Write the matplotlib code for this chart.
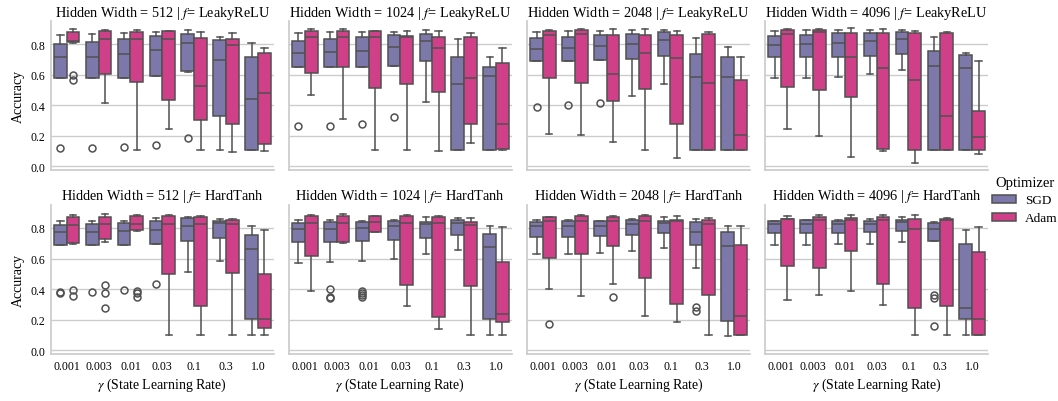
import matplotlib.pyplot as plt
from matplotlib.patches import Patch

plt.switch_backend('agg')
plt.rcParams['font.family'] = ['Liberation Serif', 'DejaVu Serif']
plt.rcParams['mathtext.fontset'] = 'stix'

GAMMAS = ['0.001', '0.003', '0.01', '0.03', '0.1', '0.3', '1.0']
WIDTHS = [512, 1024, 2048, 4096]
ACTIVATIONS = ['LeakyReLU', 'HardTanh']
OPTIMIZERS = ['SGD', 'Adam']

# box stats per gamma: (whislo, q1, median, q3, whishi)
LRELU_512_SGD = [(0.575, 0.575, 0.714, 0.798, 0.861), (0.579, 0.579, 0.718, 0.813, 0.866),
                 (0.581, 0.581, 0.733, 0.831, 0.872), (0.590, 0.590, 0.759, 0.853, 0.879),
                 (0.620, 0.622, 0.807, 0.868, 0.889), (0.104, 0.330, 0.696, 0.826, 0.848),
                 (0.104, 0.104, 0.440, 0.714, 0.807)]
LRELU_512_ADAM = [(0.810, 0.812, 0.818, 0.876, 0.896), (0.416, 0.603, 0.831, 0.883, 0.889),
                  (0.104, 0.549, 0.831, 0.879, 0.894), (0.245, 0.436, 0.831, 0.883, 0.883),
                  (0.104, 0.304, 0.527, 0.839, 0.881), (0.091, 0.280, 0.794, 0.831, 0.870),
                  (0.098, 0.148, 0.479, 0.742, 0.772)]
LRELU_1024_SGD = [(0.653, 0.653, 0.742, 0.822, 0.870), (0.653, 0.653, 0.748, 0.831, 0.876),
                  (0.653, 0.653, 0.757, 0.844, 0.879), (0.659, 0.659, 0.783, 0.859, 0.881),
                  (0.423, 0.690, 0.818, 0.866, 0.889), (0.104, 0.104, 0.536, 0.716, 0.833),
                  (0.104, 0.104, 0.592, 0.651, 0.718)]
LRELU_1024_ADAM = [(0.466, 0.610, 0.844, 0.887, 0.896), (0.312, 0.649, 0.844, 0.885, 0.896),
                   (0.104, 0.512, 0.846, 0.887, 0.887), (0.104, 0.540, 0.844, 0.850, 0.885),
                   (0.098, 0.486, 0.772, 0.844, 0.887), (0.150, 0.278, 0.577, 0.844, 0.874),
                   (0.104, 0.115, 0.280, 0.679, 0.772)]
LRELU_2048_SGD = [(0.690, 0.690, 0.766, 0.837, 0.879), (0.692, 0.692, 0.774, 0.844, 0.887),
                  (0.696, 0.696, 0.785, 0.857, 0.883), (0.462, 0.703, 0.800, 0.868, 0.889),
                  (0.536, 0.720, 0.826, 0.876, 0.894), (0.104, 0.104, 0.586, 0.735, 0.837),
                  (0.104, 0.104, 0.583, 0.714, 0.781)]
LRELU_2048_ADAM = [(0.213, 0.575, 0.857, 0.885, 0.894), (0.206, 0.542, 0.866, 0.892, 0.896),
                   (0.161, 0.430, 0.603, 0.861, 0.896), (0.104, 0.508, 0.742, 0.861, 0.896),
                   (0.054, 0.278, 0.709, 0.861, 0.887), (0.104, 0.104, 0.542, 0.863, 0.876),
                   (0.104, 0.104, 0.208, 0.566, 0.714)]
LRELU_4096_SGD = [(0.575, 0.714, 0.794, 0.850, 0.887), (0.577, 0.714, 0.798, 0.857, 0.889),
                  (0.584, 0.716, 0.807, 0.870, 0.892), (0.601, 0.722, 0.820, 0.872, 0.894),
                  (0.631, 0.735, 0.833, 0.879, 0.894), (0.104, 0.104, 0.655, 0.755, 0.844),
                  (0.104, 0.104, 0.646, 0.727, 0.742)]
LRELU_4096_ADAM = [(0.243, 0.521, 0.868, 0.889, 0.898), (0.197, 0.501, 0.876, 0.892, 0.900),
                   (0.063, 0.453, 0.716, 0.874, 0.902), (0.098, 0.113, 0.642, 0.874, 0.898),
                   (0.024, 0.104, 0.568, 0.872, 0.885), (0.104, 0.104, 0.330, 0.870, 0.879),
                   (0.082, 0.104, 0.191, 0.364, 0.690)]

HTANH_512_SGD = [(0.686, 0.686, 0.771, 0.820, 0.844), (0.686, 0.686, 0.771, 0.827, 0.844),
                 (0.688, 0.688, 0.777, 0.831, 0.848), (0.697, 0.697, 0.790, 0.844, 0.864),
                 (0.515, 0.714, 0.814, 0.864, 0.870), (0.584, 0.736, 0.833, 0.844, 0.857),
                 (0.102, 0.203, 0.662, 0.753, 0.816)]
HTANH_512_ADAM = [(0.692, 0.699, 0.820, 0.874, 0.887), (0.708, 0.727, 0.823, 0.874, 0.890),
                  (0.777, 0.788, 0.823, 0.877, 0.885), (0.102, 0.496, 0.823, 0.877, 0.887),
                  (0.102, 0.290, 0.823, 0.872, 0.879), (0.102, 0.504, 0.827, 0.855, 0.857),
                  (0.102, 0.143, 0.203, 0.502, 0.784)]
HTANH_1024_SGD = [(0.571, 0.710, 0.792, 0.835, 0.853), (0.576, 0.710, 0.794, 0.838, 0.853),
                  (0.584, 0.712, 0.801, 0.842, 0.846), (0.600, 0.721, 0.810, 0.844, 0.851),
                  (0.630, 0.736, 0.823, 0.840, 0.870), (0.656, 0.753, 0.831, 0.851, 0.864),
                  (0.102, 0.203, 0.677, 0.760, 0.814)]
HTANH_1024_ADAM = [(0.385, 0.619, 0.833, 0.877, 0.887), (0.704, 0.708, 0.835, 0.877, 0.894),
                   (0.771, 0.771, 0.840, 0.879, 0.879), (0.288, 0.426, 0.835, 0.877, 0.883),
                   (0.139, 0.221, 0.835, 0.870, 0.879), (0.102, 0.422, 0.820, 0.838, 0.868),
                   (0.102, 0.188, 0.240, 0.576, 0.805)]
HTANH_2048_SGD = [(0.628, 0.740, 0.812, 0.842, 0.855), (0.628, 0.742, 0.814, 0.844, 0.855),
                  (0.634, 0.747, 0.816, 0.844, 0.848), (0.647, 0.753, 0.823, 0.855, 0.857),
                  (0.671, 0.764, 0.831, 0.848, 0.870), (0.535, 0.686, 0.773, 0.838, 0.857),
                  (0.091, 0.193, 0.684, 0.773, 0.814)]
HTANH_2048_ADAM = [(0.403, 0.602, 0.844, 0.870, 0.874), (0.355, 0.630, 0.846, 0.877, 0.887),
                   (0.431, 0.684, 0.848, 0.874, 0.881), (0.227, 0.474, 0.848, 0.881, 0.885),
                   (0.184, 0.301, 0.844, 0.855, 0.877), (0.102, 0.359, 0.825, 0.855, 0.864),
                   (0.102, 0.102, 0.225, 0.690, 0.814)]
HTANH_4096_SGD = [(0.686, 0.766, 0.827, 0.844, 0.848), (0.688, 0.766, 0.827, 0.851, 0.855),
                  (0.693, 0.768, 0.829, 0.846, 0.853), (0.697, 0.773, 0.829, 0.846, 0.857),
                  (0.706, 0.781, 0.838, 0.855, 0.870), (0.714, 0.714, 0.792, 0.835, 0.842),
                  (0.102, 0.206, 0.277, 0.697, 0.786)]
HTANH_4096_ADAM = [(0.331, 0.554, 0.859, 0.859, 0.879), (0.361, 0.537, 0.853, 0.870, 0.887),
                   (0.385, 0.647, 0.853, 0.868, 0.887), (0.299, 0.431, 0.855, 0.870, 0.887),
                   (0.102, 0.275, 0.794, 0.857, 0.885), (0.102, 0.292, 0.855, 0.859, 0.864),
                   (0.102, 0.102, 0.206, 0.645, 0.805)]

# outliers per gamma
LRELU_512_SGD_FLIERS = [[0.121], [0.121], [0.126], [0.141], [0.184], [], []]
LRELU_512_ADAM_FLIERS = [[0.600, 0.562], [], [], [], [], [], []]
LRELU_1024_SGD_FLIERS = [[0.265], [0.267], [0.280], [0.321], [], [], []]
LRELU_2048_SGD_FLIERS = [[0.390], [0.399], [0.416], [], [], [], []]
HTANH_512_SGD_FLIERS = [[0.381, 0.377], [0.383], [0.396], [0.431], [], [], []]
HTANH_512_ADAM_FLIERS = [[0.396, 0.355], [0.424, 0.377, 0.279], [0.390, 0.372, 0.351], [], [], [], []]
HTANH_1024_SGD_FLIERS = [[], [0.403, 0.346, 0.340], [0.385, 0.372, 0.359, 0.346], [], [], [], []]
HTANH_2048_SGD_FLIERS = [[], [], [], [], [], [0.286, 0.255], []]
HTANH_2048_ADAM_FLIERS = [[0.175], [], [0.351], [], [], [], []]
HTANH_4096_SGD_FLIERS = [[], [], [], [], [], [0.359, 0.344, 0.158], []]
NO_FLIERS = [[]] * 7

PANELS = {
    ('LeakyReLU', 512): [(LRELU_512_SGD, LRELU_512_SGD_FLIERS), (LRELU_512_ADAM, LRELU_512_ADAM_FLIERS)],
    ('LeakyReLU', 1024): [(LRELU_1024_SGD, LRELU_1024_SGD_FLIERS), (LRELU_1024_ADAM, NO_FLIERS)],
    ('LeakyReLU', 2048): [(LRELU_2048_SGD, LRELU_2048_SGD_FLIERS), (LRELU_2048_ADAM, NO_FLIERS)],
    ('LeakyReLU', 4096): [(LRELU_4096_SGD, NO_FLIERS), (LRELU_4096_ADAM, NO_FLIERS)],
    ('HardTanh', 512): [(HTANH_512_SGD, HTANH_512_SGD_FLIERS), (HTANH_512_ADAM, HTANH_512_ADAM_FLIERS)],
    ('HardTanh', 1024): [(HTANH_1024_SGD, HTANH_1024_SGD_FLIERS), (HTANH_1024_ADAM, NO_FLIERS)],
    ('HardTanh', 2048): [(HTANH_2048_SGD, HTANH_2048_SGD_FLIERS), (HTANH_2048_ADAM, HTANH_2048_ADAM_FLIERS)],
    ('HardTanh', 4096): [(HTANH_4096_SGD, HTANH_4096_SGD_FLIERS), (HTANH_4096_ADAM, NO_FLIERS)],
}

COLORS = {'SGD': '#7c78aa', 'Adam': '#cf4089'}
LINE = '#505050'
GRID = '#cccccc'
LW = 1.1


def to_stats(boxes, fliers):
    out = []
    for (lo, q1, med, q3, hi), fl in zip(boxes, fliers):
        out.append({'whislo': lo, 'q1': q1, 'med': med, 'q3': q3, 'whishi': hi, 'fliers': fl})
    return out


fig, axes = plt.subplots(2, 4, figsize=(10.58, 4.02), dpi=100, sharey=True)
fig.subplots_adjust(left=0.048, right=0.934, top=0.945, bottom=0.117, wspace=0.067, hspace=0.235)

for r, act in enumerate(ACTIVATIONS):
    for c, width in enumerate(WIDTHS):
        ax = axes[r, c]
        for k, (opt, (boxes, fliers)) in enumerate(zip(OPTIMIZERS, PANELS[(act, width)])):
            pos = [i - 0.2 + 0.4 * k for i in range(len(GAMMAS))]
            ax.bxp(to_stats(boxes, fliers), positions=pos, widths=0.4, patch_artist=True,
                   boxprops=dict(facecolor=COLORS[opt], edgecolor=LINE, linewidth=LW),
                   medianprops=dict(color=LINE, linewidth=LW),
                   whiskerprops=dict(color=LINE, linewidth=LW),
                   capprops=dict(color=LINE, linewidth=LW),
                   flierprops=dict(marker='o', markerfacecolor='none', markeredgecolor=LINE,
                                   markersize=5, markeredgewidth=1.1))
        ax.set_xlim(-0.5, len(GAMMAS) - 0.5)
        ax.set_ylim(-0.024, 0.95)
        ax.set_xticks(range(len(GAMMAS)))
        ax.set_xticklabels(GAMMAS, fontsize=8.5)
        ax.set_yticks([0.0, 0.2, 0.4, 0.6, 0.8])
        ax.set_yticklabels(['0.0', '0.2', '0.4', '0.6', '0.8'], fontsize=8.5)
        ax.yaxis.grid(True, color=GRID, linewidth=1)
        ax.set_axisbelow(True)
        for side in ['top', 'right']:
            ax.spines[side].set_visible(False)
        for side in ['left', 'bottom']:
            ax.spines[side].set_color(GRID)
            ax.spines[side].set_linewidth(1.25)
        ax.tick_params(length=0, pad=4, labelleft=(c == 0), labelbottom=(r == 1))
        ax.set_title(f'Hidden Width = {width} | $f$= {act}', fontsize=10.3, pad=4)
        if c == 0:
            ax.set_ylabel('Accuracy', fontsize=10)
        if r == 1:
            ax.set_xlabel(r'$\gamma$ (State Learning Rate)', fontsize=10, labelpad=3)

handles = [Patch(facecolor=COLORS[o], edgecolor=LINE, linewidth=LW, label=o) for o in OPTIMIZERS]
fig.legend(handles=handles, title='Optimizer', loc='center left', bbox_to_anchor=(0.935, 0.5),
           frameon=False, fontsize=9.5, title_fontsize=10.5, borderaxespad=0, borderpad=0.2,
           handlelength=1.8, handleheight=0.6, handletextpad=0.7, labelspacing=0.45)

plt.savefig('out.png', dpi=100)
plt.close()
